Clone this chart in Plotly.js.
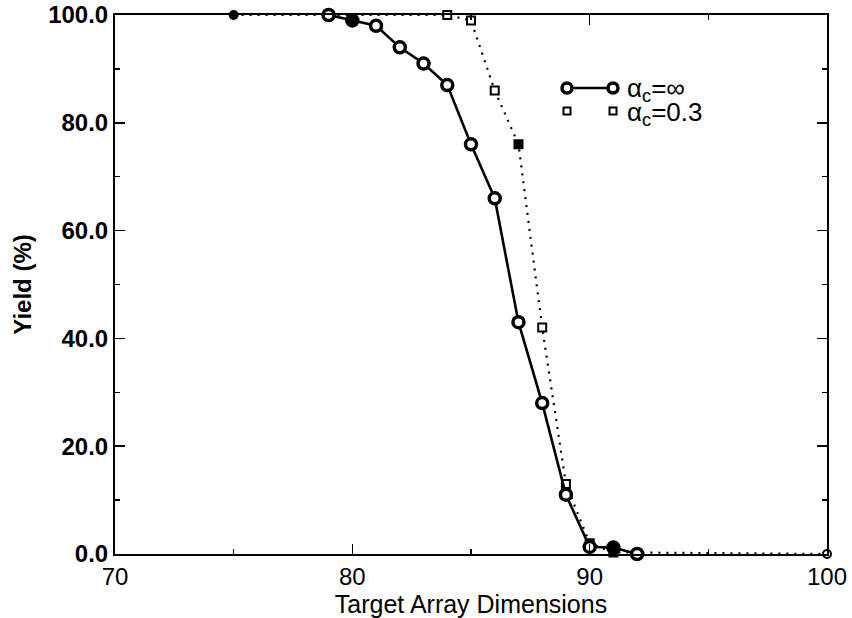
<!DOCTYPE html>
<html>
<head>
<meta charset="utf-8">
<script src="https://cdn.plot.ly/plotly-3.0.1.min.js"></script>
<style>html,body{margin:0;padding:0;background:#fff;}#chart{width:852px;height:618px;}</style>
</head>
<body>
<div id="chart"></div>
<script>
// Series alpha_c = infinity (solid line, circles)
const infX = [79, 80, 81, 82, 83, 84, 85, 86, 87, 88, 89, 90, 91, 92];
const infY = [100, 99, 98, 94, 91, 87, 76, 66, 43, 28, 11, 1.3, 1.2, 0];
const infFill = ['white','black','white','white','white','white','white','white','white','white','white','white','black','white'];

// Series alpha_c = 0.3 (dotted line, squares)
const lowX = [75, 79, 84, 85, 86, 87, 88, 89, 90, 91, 100];
const lowY = [100, 100, 100, 99, 86, 76, 42, 13, 2, 0.3, 0];
const lowFill = ['black','white','white','white','white','black','white','white','white','white','white'];
const lowSym = ['circle','square','square','square','square','square','square','square','square','square','circle'];

const xTicks = [70, 80, 90, 100];
const yTicks = [0, 20, 40, 60, 80, 100];
const legendNames = ['α<sub>c</sub>=∞', 'α<sub>c</sub>=0.3'];

const FONT = 'Liberation Sans, Arial, Helvetica, sans-serif';

const traces = [
  {
    x: lowX, y: lowY, type: 'scatter', mode: 'lines+markers', name: legendNames[1],
    line: {color: 'black', width: 2.2, dash: '2px,6px'},
    marker: {symbol: lowSym, size: 8, color: lowFill, line: {color: 'black', width: 2}},
    cliponaxis: false
  },
  {
    x: infX, y: infY, type: 'scatter', mode: 'lines+markers', name: legendNames[0],
    line: {color: 'black', width: 2.6},
    marker: {symbol: 'circle', size: 11, color: infFill, line: {color: 'black', width: 3.5}},
    cliponaxis: false
  }
];

// legend drawn in paper coordinates (pixel-based)
const L = 115, W = 712, T = 15, H = 539;
const px = v => (v - L) / W;
const py = v => (T + H - v) / H;

const shapes = [
  {type: 'line', xref: 'paper', yref: 'paper', x0: px(567), x1: px(613), y0: py(88), y1: py(88), line: {color: 'black', width: 2.6}},
];
[[567, 88, 'circle'], [613, 88, 'circle'], [567, 111, 'rect'], [613, 111, 'rect']].forEach(function (m) {
  const r = m[2] === 'circle' ? 5 : 3.5;
  shapes.push({
    type: m[2], xref: 'paper', yref: 'paper', xsizemode: 'pixel', ysizemode: 'pixel',
    xanchor: px(m[0]), yanchor: py(m[1]), x0: -r, x1: r, y0: -r, y1: r,
    fillcolor: 'white', line: {color: 'black', width: m[2] === 'circle' ? 3.5 : 2}
  });
});

const annotations = [
  {xref: 'paper', yref: 'paper', x: px(625), y: py(90), xanchor: 'left', yanchor: 'middle', text: legendNames[0], showarrow: false, font: {family: FONT, size: 26, color: 'black'}},
  {xref: 'paper', yref: 'paper', x: px(625), y: py(114), xanchor: 'left', yanchor: 'middle', text: legendNames[1], showarrow: false, font: {family: FONT, size: 26, color: 'black'}}
];

const layout = {
  width: 852, height: 618,
  margin: {l: 115, r: 25, t: 15, b: 64},
  paper_bgcolor: 'white', plot_bgcolor: 'white',
  showlegend: false,
  font: {family: FONT, color: 'black', size: 23},
  xaxis: {
    range: [70, 100], tickvals: xTicks, ticktext: xTicks.map(String),
    ticks: 'inside', ticklen: 10, tickwidth: 1.5, tickcolor: 'black',
    minor: {dtick: 5, ticks: 'inside', ticklen: 5, tickwidth: 1.5, tickcolor: 'black', showgrid: false},
    showline: true, linecolor: 'black', linewidth: 2, mirror: 'ticks',
    showgrid: false, zeroline: false,
    tickfont: {family: FONT, size: 24, color: 'black'},
    title: {text: 'Target Array Dimensions', font: {family: FONT, size: 25, color: 'black'}, standoff: 2}
  },
  yaxis: {
    range: [0, 100], tickvals: yTicks, ticktext: yTicks.map(v => v.toFixed(1)),
    ticks: 'inside', ticklen: 10, tickwidth: 1.5, tickcolor: 'black',
    minor: {dtick: 10, ticks: 'inside', ticklen: 5, tickwidth: 1.5, tickcolor: 'black', showgrid: false},
    showline: true, linecolor: 'black', linewidth: 2, mirror: 'ticks',
    showgrid: false, zeroline: false,
    tickfont: {family: FONT, size: 24, color: 'black', weight: 'bold'},
    title: {text: 'Yield (%)', font: {family: FONT, size: 24, color: 'black', weight: 'bold'}, standoff: 10}
  },
  shapes: shapes,
  annotations: annotations
};

Plotly.newPlot('chart', traces, layout, {displayModeBar: false, staticPlot: true});
</script>
</body>
</html>
